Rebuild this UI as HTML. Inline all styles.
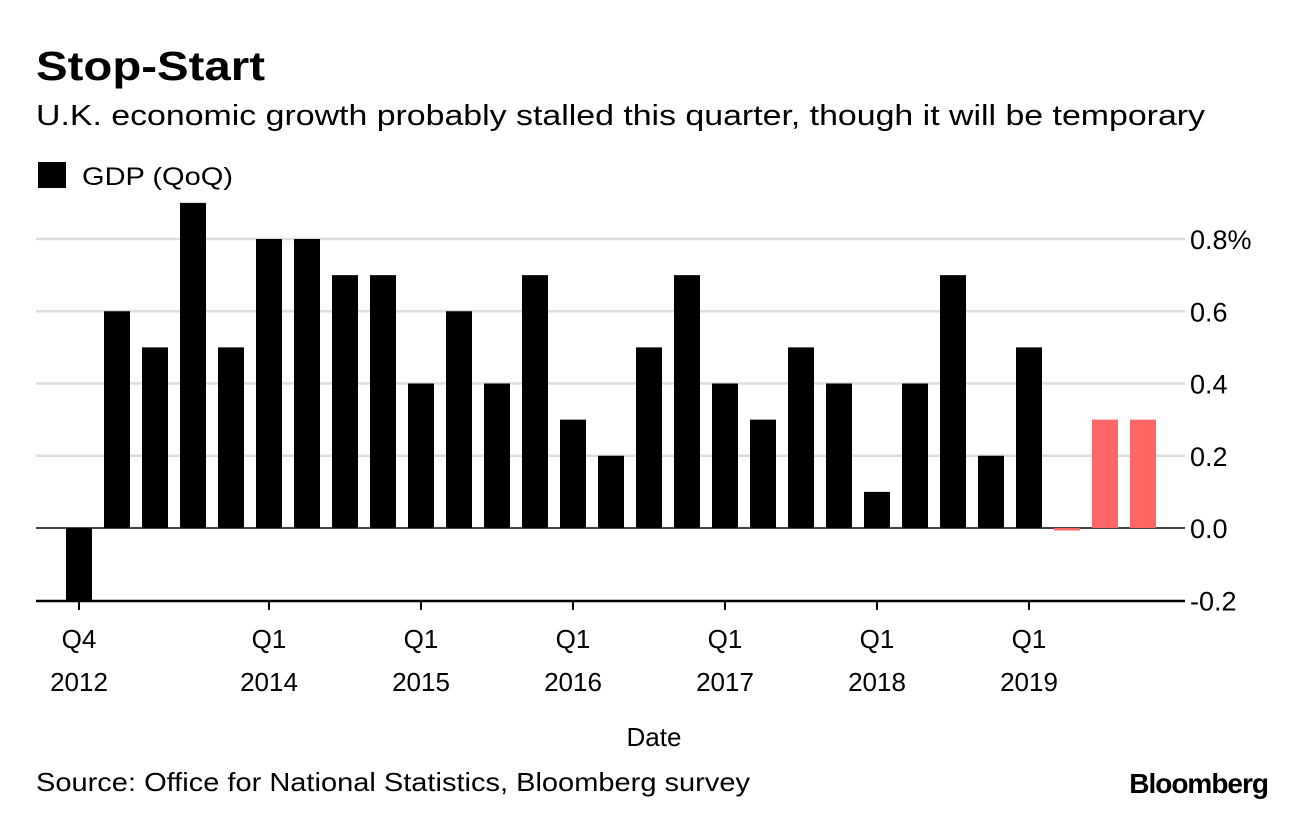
<!DOCTYPE html>
<html><head><meta charset="utf-8"><style>
body{margin:0;background:#fff;font-family:"Liberation Sans",sans-serif;}
svg text{font-family:"Liberation Sans",sans-serif;}
</style></head><body>
<svg width="1296" height="814">
<text x="36" y="80" font-size="41" font-weight="bold" fill="#000" textLength="229" lengthAdjust="spacingAndGlyphs">Stop-Start</text>
<text x="36" y="125" font-size="29" fill="#000" textLength="1169" lengthAdjust="spacingAndGlyphs">U.K. economic growth probably stalled this quarter, though it will be temporary</text>
<rect x="38" y="162" width="28" height="26" fill="#000"/>
<text x="82" y="185" font-size="25" fill="#000" textLength="151" lengthAdjust="spacingAndGlyphs">GDP (QoQ)</text>
<g id="grid"></g>
<g id="bars"></g>
<g id="axes"></g>
<text x="654" y="746" font-size="26" text-anchor="middle">Date</text>
<text x="36" y="791" font-size="26" textLength="714" lengthAdjust="spacingAndGlyphs">Source: Office for National Statistics, Bloomberg survey</text>
<text x="1268" y="793" font-size="28" font-weight="bold" text-anchor="end" letter-spacing="-1">Bloomberg</text>
</svg>
<script>
const values=[-0.2,0.6,0.5,0.9,0.5,0.8,0.8,0.7,0.7,0.4,0.6,0.4,0.7,0.3,0.2,0.5,0.7,0.4,0.3,0.5,0.4,0.1,0.4,0.7,0.2,0.5,0.0,0.3,0.3];
const forecast=[false,false,false,false,false,false,false,false,false,false,false,false,false,false,false,false,false,false,false,false,false,false,false,false,false,false,true,true,true];
const yTicks=[-0.2,0,0.2,0.4,0.6,0.8];
const yTickLabels=["-0.2","0.0","0.2","0.4","0.6","0.8%"];
const xTickIdx=[0,5,9,13,17,21,25];
const xTickTop=["Q4","Q1","Q1","Q1","Q1","Q1","Q1"];
const xTickBottom=["2012","2014","2015","2016","2017","2018","2019"];
const NS="http://www.w3.org/2000/svg";
const y=v=>528-v*361.25;
const x=i=>79+i*38;
function mk(tag,attrs,parent){const e=document.createElementNS(NS,tag);for(const k in attrs)e.setAttribute(k,attrs[k]);document.getElementById(parent).appendChild(e);return e;}
yTicks.forEach((t,k)=>{
  if(t!==-0.2){
    const l=mk('line',{x1:36,x2:1185,y1:y(t),y2:y(t),stroke:t===0?'#444':'#ddd','stroke-width':t===0?2:2.5},'grid');
    
    
  }
  const tx=mk('text',{x:1190,y:y(t)+10,'font-size':27,fill:'#000'},'axes');
  tx.textContent=yTickLabels[k];
  
  
});
values.forEach((v,i)=>{
  let top=Math.min(y(v),528),h=Math.abs(y(v)-528);
  if(h<2){top=528;h=2.5;}
  const r=mk('rect',{x:x(i)-13,y:top,width:26,height:h,fill:forecast[i]?'#ff6666':'#000'},'bars');
  
  
});
const ax=mk('line',{x1:36,x2:1185,y1:601,y2:601,stroke:'#000','stroke-width':2.5},'axes');


xTickIdx.forEach((idx,k)=>{
  const t=mk('line',{x1:x(idx),x2:x(idx),y1:601,y2:610,stroke:'#000','stroke-width':2},'axes');
  
  
  const a=mk('text',{x:x(idx),y:648,'font-size':26,'text-anchor':'middle'},'axes');
  a.textContent=xTickTop[k];
  
  
  const b=mk('text',{x:x(idx),y:691,'font-size':26,'text-anchor':'middle'},'axes');
  b.textContent=xTickBottom[k];
  
  
});
</script>
</body></html>
